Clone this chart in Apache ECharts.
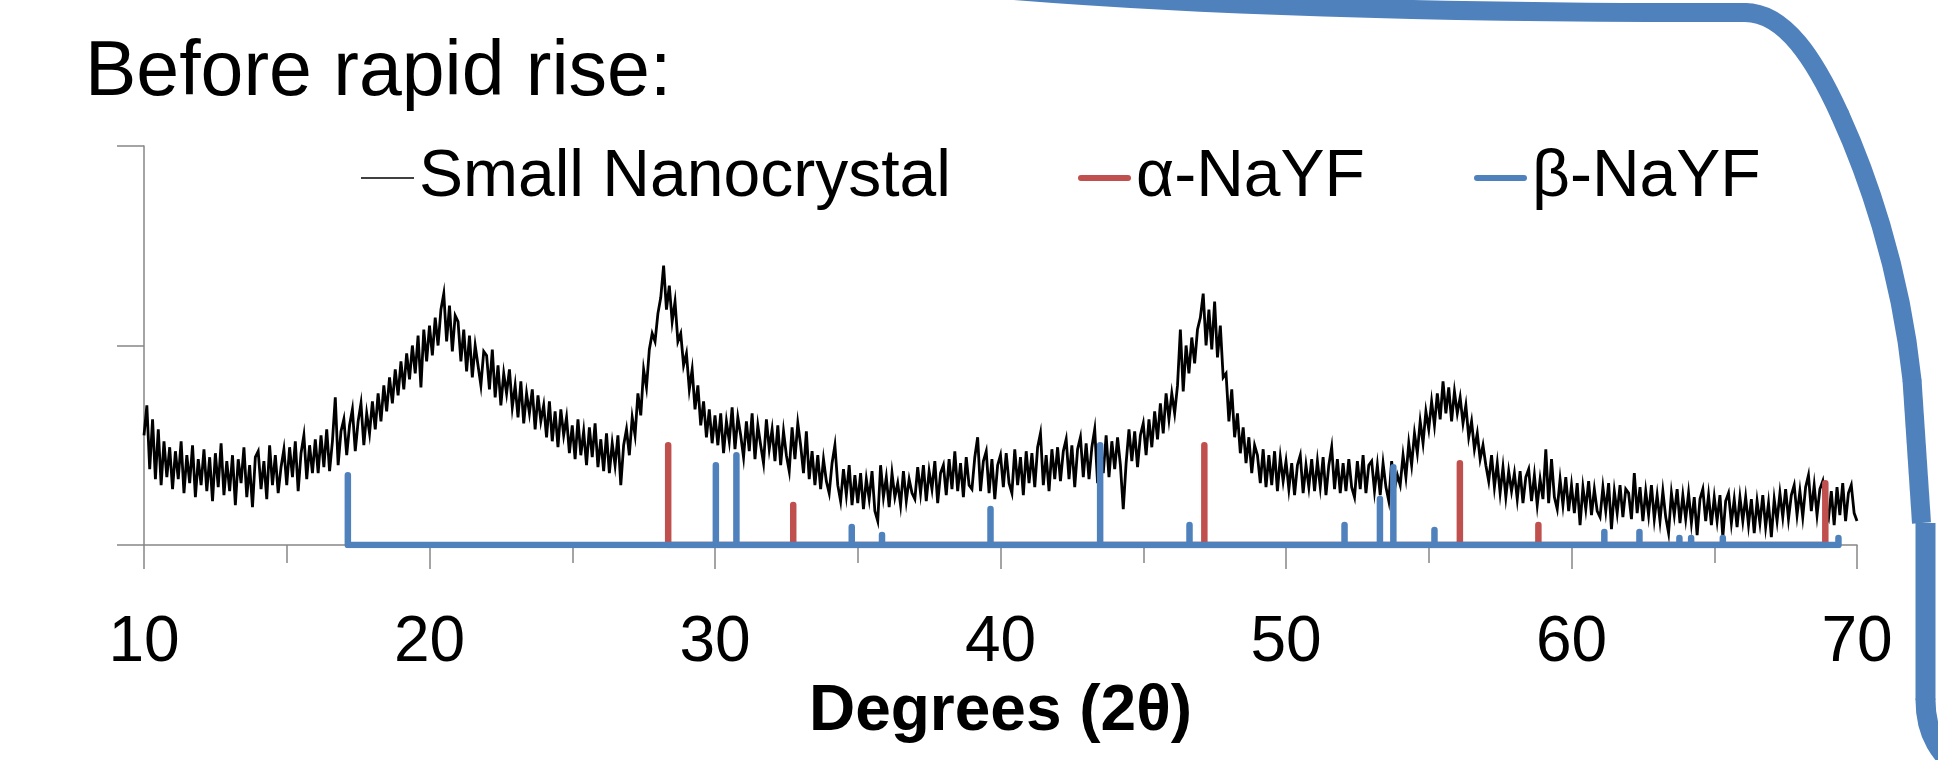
<!DOCTYPE html>
<html>
<head>
<meta charset="utf-8">
<script src="https://cdn.jsdelivr.net/npm/echarts@6/dist/echarts.min.js"></script>
<style>
html,body{margin:0;padding:0;background:#fff;}
#c{width:1938px;height:760px;}
</style>
</head>
<body>
<div id="c"></div>
<script>
// ---- data ----
const titleText = 'Before rapid rise:';
const seriesNames = ['Small Nanocrystal', 'α-NaYF', 'β-NaYF'];
const xTicks = [10, 20, 30, 40, 50, 60, 70];
const axisTitle = 'Degrees (2θ)';

// measured trace: one value per 0.1 degree from 10.0 to 70.0
const traceStart = 10.0;
const traceStep = 0.1;
const traceValues = [
0.55,0.70,0.38,0.63,0.33,0.58,0.30,0.52,0.34,0.49,
0.28,0.47,0.33,0.52,0.26,0.45,0.31,0.50,0.24,0.43,
0.30,0.48,0.27,0.44,0.22,0.46,0.29,0.51,0.25,0.42,
0.27,0.45,0.20,0.43,0.31,0.49,0.24,0.40,0.19,0.44,
0.47,0.28,0.42,0.23,0.50,0.30,0.45,0.26,0.39,0.48,
0.30,0.49,0.34,0.52,0.27,0.46,0.55,0.33,0.50,0.36,
0.53,0.36,0.55,0.39,0.58,0.37,0.52,0.74,0.40,0.57,
0.63,0.45,0.60,0.68,0.47,0.62,0.71,0.50,0.66,0.56,
0.72,0.58,0.76,0.62,0.80,0.67,0.84,0.71,0.88,0.75,
0.92,0.78,0.96,0.83,1.00,0.86,1.05,0.79,1.08,0.92,
1.10,0.95,1.14,1.00,1.18,1.26,1.02,1.20,0.97,1.15,
1.12,0.92,1.08,0.87,1.05,0.84,1.00,0.90,0.80,0.97,
0.95,0.78,0.98,0.74,0.90,0.70,0.86,0.76,0.88,0.69,
0.80,0.64,0.82,0.61,0.76,0.66,0.78,0.58,0.75,0.62,
0.70,0.54,0.72,0.52,0.67,0.49,0.68,0.55,0.64,0.46,
0.60,0.43,0.63,0.45,0.57,0.40,0.59,0.44,0.61,0.39,
0.53,0.37,0.56,0.36,0.51,0.40,0.55,0.30,0.50,0.58,
0.45,0.64,0.55,0.76,0.65,0.88,0.79,0.98,1.06,1.02,
1.16,1.24,1.40,1.18,1.30,1.12,1.22,1.02,1.06,0.90,
0.96,0.78,0.88,0.68,0.80,0.60,0.72,0.54,0.68,0.51,
0.65,0.50,0.66,0.46,0.62,0.52,0.69,0.48,0.64,0.55,
0.44,0.62,0.47,0.66,0.43,0.60,0.50,0.41,0.63,0.48,
0.58,0.42,0.60,0.40,0.57,0.45,0.37,0.59,0.43,0.61,
0.50,0.36,0.57,0.33,0.47,0.30,0.45,0.28,0.43,0.32,
0.26,0.41,0.50,0.30,0.22,0.38,0.25,0.40,0.20,0.35,
0.21,0.36,0.18,0.33,0.23,0.37,0.17,0.12,0.40,0.24,
0.34,0.19,0.36,0.24,0.31,0.20,0.37,0.22,0.33,0.26,
0.23,0.39,0.26,0.40,0.22,0.37,0.28,0.42,0.21,0.36,
0.40,0.25,0.43,0.28,0.47,0.27,0.41,0.24,0.44,0.30,
0.28,0.44,0.54,0.27,0.42,0.47,0.26,0.43,0.23,0.40,
0.45,0.29,0.46,0.31,0.26,0.48,0.30,0.44,0.25,0.47,
0.31,0.46,0.29,0.49,0.56,0.30,0.45,0.27,0.48,0.33,
0.49,0.32,0.47,0.53,0.33,0.50,0.29,0.48,0.54,0.34,
0.51,0.33,0.49,0.58,0.31,0.50,0.36,0.55,0.34,0.52,
0.38,0.54,0.40,0.18,0.41,0.58,0.42,0.57,0.39,0.55,
0.61,0.45,0.63,0.49,0.67,0.53,0.71,0.56,0.76,0.63,
0.76,0.66,0.80,1.08,0.77,1.00,0.86,1.04,0.91,1.08,
1.14,1.26,1.00,1.18,0.98,1.22,0.94,1.10,0.84,0.86,
0.62,0.78,0.54,0.66,0.46,0.59,0.41,0.54,0.36,0.50,
0.45,0.31,0.48,0.29,0.45,0.30,0.47,0.27,0.44,0.32,
0.42,0.28,0.41,0.25,0.40,0.45,0.26,0.40,0.29,0.43,
0.27,0.42,0.29,0.44,0.25,0.40,0.49,0.28,0.43,0.26,
0.41,0.27,0.43,0.29,0.24,0.42,0.28,0.45,0.26,0.40,
0.42,0.27,0.40,0.25,0.41,0.29,0.22,0.42,0.28,0.35,
0.30,0.45,0.34,0.51,0.40,0.56,0.46,0.62,0.51,0.67,
0.58,0.72,0.60,0.76,0.63,0.82,0.66,0.79,0.62,0.77,
0.66,0.74,0.61,0.70,0.54,0.62,0.48,0.56,0.43,0.50,
0.40,0.32,0.45,0.29,0.41,0.26,0.39,0.24,0.37,0.27,
0.36,0.23,0.37,0.21,0.34,0.38,0.22,0.35,0.20,0.33,
0.23,0.48,0.21,0.43,0.24,0.18,0.33,0.20,0.34,0.17,
0.30,0.16,0.31,0.10,0.29,0.18,0.32,0.15,0.28,0.17,
0.14,0.29,0.17,0.31,0.08,0.27,0.16,0.30,0.14,0.28,
0.26,0.13,0.36,0.16,0.29,0.12,0.27,0.15,0.30,0.13,
0.25,0.12,0.27,0.14,0.06,0.26,0.15,0.28,0.11,0.25,
0.13,0.26,0.11,0.24,0.05,0.23,0.28,0.12,0.25,0.10,
0.24,0.12,0.25,0.04,0.22,0.26,0.11,0.23,0.09,0.24,
0.12,0.24,0.10,0.23,0.06,0.22,0.11,0.25,0.09,0.21,
0.04,0.23,0.12,0.26,0.14,0.28,0.13,0.25,0.30,0.15,
0.27,0.14,0.29,0.35,0.17,0.30,0.15,0.28,0.32,0.16,
0.13,0.27,0.10,0.29,0.15,0.31,0.12,0.26,0.30,0.16,
0.12
];

// reference stick patterns
const alphaPos = [28.36, 32.74, 47.14, 56.09, 58.84, 68.89];
const alphaH   = [0.50, 0.20, 0.50, 0.41, 0.10, 0.31];
const betaPos  = [17.14, 30.03, 30.75, 34.79, 35.85, 39.65, 43.49, 46.62, 52.05, 53.29, 53.76, 55.20, 61.15, 62.38, 63.78, 64.19, 65.30, 69.35];
const betaH    = [0.35, 0.40, 0.45, 0.09, 0.05, 0.18, 0.50, 0.10, 0.10, 0.23, 0.39, 0.075, 0.065, 0.065, 0.035, 0.035, 0.035, 0.035];

// ---- build series data ----
const traceData = traceValues.map((v, i) => [+(traceStart + i * traceStep).toFixed(2), v]);
const alphaData = [];
alphaPos.forEach((p, i) => { alphaData.push([p, 0], [p, alphaH[i]], [p, 0]); });
const betaData = [[betaPos[0], betaH[0]], [betaPos[0], 0]];
for (let i = 1; i < betaPos.length; i++) {
  betaData.push([betaPos[i], 0], [betaPos[i], betaH[i]], [betaPos[i], 0]);
}

const FONT = 'Liberation Sans';
const GRAY = '#868686';
const BLACK = '#000000';
const RED = '#C0504D';
const BLUE = '#4F81BD';

const chart = echarts.init(document.getElementById('c'), null, {renderer: 'canvas'});

const thinIcon = 'path://M0,0L53,0L53,1.6L0,1.6Z';
const roundIcon = 'path://M3,0L50,0A3,3,0,0,1,50,6L3,6A3,3,0,0,1,3,0Z';
const legendText = {fontFamily: FONT, fontSize: 66, color: '#000'};

const option = {
  animation: false,
  backgroundColor: '#fff',
  title: {
    text: titleText,
    left: 85,
    top: 35,
    padding: 0,
    textStyle: {fontFamily: FONT, fontSize: 77, fontWeight: 'normal', color: '#000'}
  },
  legend: [
    {data: [{name: seriesNames[0], icon: thinIcon}], left: 361, top: 145, padding: 0,
     itemWidth: 53, itemHeight: 6, itemGap: 0, textStyle: legendText, selectedMode: false},
    {data: [{name: seriesNames[1], icon: roundIcon}], left: 1078, top: 145, padding: 0,
     itemWidth: 53, itemHeight: 6, itemGap: 0, textStyle: legendText, selectedMode: false},
    {data: [{name: seriesNames[2], icon: roundIcon}], left: 1474, top: 145, padding: 0,
     itemWidth: 53, itemHeight: 6, itemGap: 0, textStyle: legendText, selectedMode: false}
  ],
  grid: {left: 144, right: 81, top: 146, bottom: 215, containLabel: false},
  xAxis: {
    type: 'value',
    min: xTicks[0], max: xTicks[xTicks.length - 1], interval: 10,
    name: axisTitle,
    nameLocation: 'middle',
    nameGap: 118,
    nameTextStyle: {fontFamily: FONT, fontSize: 64, fontWeight: 'bold', color: '#000'},
    axisLine: {show: true, onZero: false, lineStyle: {color: GRAY, width: 1.5}},
    axisTick: {show: true, inside: false, length: 24, lineStyle: {color: GRAY, width: 1.5}},
    minorTick: {show: true, splitNumber: 2, length: 18, lineStyle: {color: GRAY, width: 1.5}},
    axisLabel: {show: true, margin: 66, fontFamily: FONT, fontSize: 64, color: '#000', showMinLabel: true, showMaxLabel: true},
    splitLine: {show: false}
  },
  yAxis: {
    type: 'value',
    min: 0, max: 2, interval: 1,
    axisLine: {show: true, lineStyle: {color: GRAY, width: 1.5}},
    axisTick: {show: true, inside: false, length: 27, lineStyle: {color: GRAY, width: 1.5}},
    axisLabel: {show: false},
    splitLine: {show: false}
  },
  series: [
    {
      name: seriesNames[0], type: 'line', data: traceData, symbol: 'none', showSymbol: false,
      itemStyle: {color: BLACK},
      lineStyle: {color: BLACK, width: 2.8, join: 'miter'}, z: 2
    },
    {
      name: seriesNames[1], type: 'line', data: alphaData, symbol: 'none', showSymbol: false,
      itemStyle: {color: RED},
      lineStyle: {color: RED, width: 6.5, cap: 'round', join: 'round'}, z: 3
    },
    {
      name: seriesNames[2], type: 'line', data: betaData, symbol: 'none', showSymbol: false,
      itemStyle: {color: BLUE},
      lineStyle: {color: BLUE, width: 6.5, cap: 'round', join: 'round'}, z: 4
    }
  ],
  graphic: [
    // decorative connector curve at the top right of the slide
    {type: 'bezierCurve', silent: true, z: 10,
     shape: {x1: 940, y1: -16, cpx1: 1250, cpy1: 14, x2: 1745, y2: 12.5},
     style: {stroke: BLUE, lineWidth: 19, fill: null, lineCap: 'round'}},
    {type: 'bezierCurve', silent: true, z: 10,
     shape: {x1: 1745, y1: 12.5, cpx1: 1785, cpy1: 12.5, cpx2: 1815, cpy2: 60, x2: 1840, y2: 115},
     style: {stroke: BLUE, lineWidth: 19, fill: null, lineCap: 'round'}},
    {type: 'bezierCurve', silent: true, z: 10,
     shape: {x1: 1840, y1: 115, cpx1: 1865, cpy1: 170, cpx2: 1900, cpy2: 265, x2: 1912, y2: 380},
     style: {stroke: BLUE, lineWidth: 19, fill: null, lineCap: 'round'}},
    {type: 'line', silent: true, z: 10,
     shape: {x1: 1912, y1: 380, x2: 1921.5, y2: 523},
     style: {stroke: BLUE, lineWidth: 19, lineCap: 'butt'}},
    {type: 'line', silent: true, z: 10,
     shape: {x1: 1925.5, y1: 523, x2: 1925.5, y2: 700},
     style: {stroke: BLUE, lineWidth: 20, lineCap: 'butt'}},
    {type: 'bezierCurve', silent: true, z: 10,
     shape: {x1: 1925.5, y1: 700, cpx1: 1925.5, cpy1: 735, cpx2: 1940, cpy2: 755, x2: 1965, y2: 775},
     style: {stroke: BLUE, lineWidth: 20, fill: null, lineCap: 'round'}}
  ]
};

chart.setOption(option);
</script>
</body>
</html>
